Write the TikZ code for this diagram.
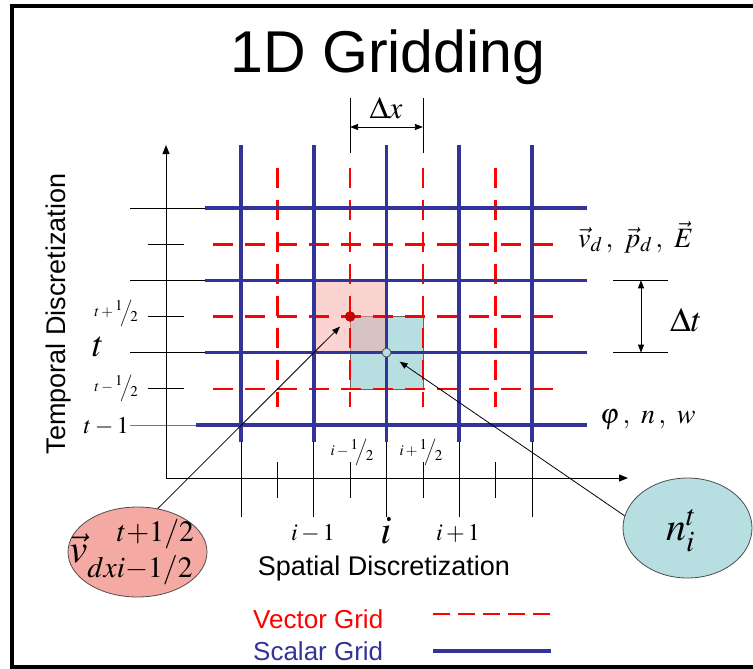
\documentclass[tikz,border=0pt]{standalone}
\usepackage{amsmath}
\usepackage{mathptmx}
\usepackage[no-math]{fontspec}
\setmainfont{Liberation Sans}
\usetikzlibrary{arrows.meta,shapes.geometric}
\definecolor{cVec}{HTML}{FF0000}
\definecolor{cSca}{HTML}{333399}
\definecolor{cDot}{HTML}{CC0000}
\definecolor{cCy}{HTML}{B7DEE1}
\definecolor{cPk}{HTML}{F8AAA4}
\definecolor{cEl}{HTML}{F4AAA2}
\newcommand{\fsz}[1]{\fontsize{#1}{#1}\selectfont}
\newcommand{\hlf}{\raisebox{.4em}{$1$}\kern-.15em\Big/\kern-.15em\raisebox{-.3em}{$2$}}

\begin{document}
\begin{tikzpicture}[x=1pt,y=-1pt,>={Triangle[length=8pt,width=6pt]},
  sgrid/.style={cSca,line width=3.6pt},
  vgrid/.style={cVec,line width=2.6pt,dash pattern=on 20pt off 12pt},
  tickln/.style={black,line width=0.8pt},
  axis/.style={black,line width=1pt,-{Triangle[length=9pt,width=7pt]}},
  callout/.style={ellipse,draw=black!70,line width=0.8pt,inner sep=0pt},
  lbl/.style={inner sep=0pt}]
\useasboundingbox (0,0) rectangle (753,669);
% frame + title
\draw[line width=3.2pt] (753,6) -- (12,6) -- (12,667) -- (753,667);
\node[lbl,font=\fsz{59},anchor=base] (title) at (388,73) {1D Gridding};
% highlighted cells
\fill[cCy] (350.1,316.5) rectangle (422.9,388.8);
\draw[black!60,line width=0.6pt] (350.1,316.5) rectangle (422.9,388.8);
\fill[cPk,opacity=.5] (313.75,280.3) rectangle (386.5,352.6);
% ticks on the axes
\foreach \y in {208,280.3,352.6} \draw[tickln] (130,\y) -- (205,\y);
\draw[cSca!70,line width=0.8pt] (130,424.9) -- (205,424.9);
\foreach \y in {244.2,316.5,388.8} \draw[tickln] (148,\y) -- (184,\y);
\foreach \x in {241,313.75,386.5,459.25,532} \draw[tickln] (\x,442) -- (\x,517);
\foreach \x in {277.4,350.1,422.9,495.6} \draw[tickln] (\x,462) -- (\x,498);
% vector grid (dashed) and scalar grid
\foreach \x in {277.4,350.1,422.9,495.6} \draw[vgrid] (\x,168) -- (\x,407);
\foreach \y in {244.2,316.5,388.8} \draw[vgrid] (213,\y) -- (557,\y);
\foreach \x in {241,313.75,386.5,459.25,532} \draw[sgrid] (\x,145) -- (\x,442);
\foreach \y in {208,280.3,352.6} \draw[sgrid] (205,\y) -- (587,\y);
\draw[sgrid] (196,424.9) -- (587,424.9);
% axes
\coordinate (O) at (166,478);
\coordinate (yend) at (166,145);
\coordinate (xend) at (628,478);
\draw[axis] (O) -- (yend);
\draw[axis] (O) -- (xend);
% delta x, delta t
\draw[tickln] (350.1,98) -- (350.1,153);
\draw[tickln] (422.9,98) -- (422.9,153);
\coordinate (dxL) at (350.1,127);
\coordinate (dxR) at (422.9,127);
\draw[<->,line width=0.8pt] (dxL) -- (dxR);
\node[lbl,font=\fsz{31}] (dxlab) at (386,108) {$\Delta x$};
\draw[tickln] (613,280.3) -- (668,280.3);
\draw[tickln] (613,352.6) -- (668,352.6);
\coordinate (dtT) at (641,280.3);
\coordinate (dtB) at (641,352.6);
\draw[<->,line width=0.8pt] (dtT) -- (dtB);
\node[lbl,font=\fsz{34},anchor=west] (dtlab) at (670,320) {$\Delta t$};
% variables on the grids
\node[lbl,font=\fsz{28},anchor=base west] (vvar) at (578,247) {$\vec v_d\,,\ \vec p_d\,,\ \vec E$};
\node[lbl,font=\fsz{28},anchor=base west] (svar) at (600,423) {$\varphi\,,\ n\,,\ w$};
% time labels
\node[lbl,font=\fsz{15},anchor=east] (tp) at (138,313) {$t+\hlf$};
\node[lbl,font=\fsz{36}] (tt) at (98,347) {$t$};
\node[lbl,font=\fsz{15},anchor=east] (tm) at (138,388) {$t-\hlf$};
\node[lbl,font=\fsz{24},anchor=east] (t1) at (129,426) {$t-1$};
\node[lbl,font=\fsz{27},rotate=90,anchor=base] (tlab) at (65,314) {Temporal Discretization};
% space labels
\node[lbl,font=\fsz{15}] (im) at (352,452) {$i-\hlf$};
\node[lbl,font=\fsz{15}] (ip) at (421,452) {$i+\hlf$};
\node[lbl,font=\fsz{24}] (i1) at (313,533) {$i-1$};
\node[lbl,font=\fsz{40}] (ii) at (386,531) {$i$};
\node[lbl,font=\fsz{24}] (i2) at (458,533) {$i+1$};
\node[lbl,font=\fsz{27},anchor=base] (xlab) at (384,575) {Spatial Discretization};
% sample points and callouts
\node[circle,fill=cDot,draw=cDot!80!black,minimum size=10pt,inner sep=0pt] (rd) at (350.1,316.5) {};
\node[circle,fill=cCy,draw=black!70,line width=0.8pt,minimum size=9pt,inner sep=0pt] (cd) at (386.5,352.6) {};
\node[callout,fill=cEl,minimum width=139pt,minimum height=90pt] (pk) at (137.5,552) {};
\node[lbl,font=\fsz{40}] (pkt) at (132,552) {$\vec v_{dxi-1/2}^{\hphantom{dx}t+1/2}$};
\node[callout,fill=cCy,minimum width=129pt,minimum height=100pt] (cy) at (687.5,528) {};
\node[lbl,font=\fsz{40}] (cyt) at (681,531) {$n_i^t$};
\draw[->,line width=0.8pt,shorten >=9pt] (pk.65) -- (rd);
\draw[->,line width=0.8pt,shorten >=11pt] (cy.169) -- (cd);
% legend
\node[lbl,font=\fsz{26},text=cVec,anchor=base west] (lvec) at (253,628) {Vector Grid};
\node[lbl,font=\fsz{26},text=cSca,anchor=base west] (lsca) at (253,660) {Scalar Grid};
\coordinate (lv1) at (433,614);
\coordinate (lv2) at (551,614);
\coordinate (ls1) at (433,651);
\coordinate (ls2) at (551,651);
\draw[vgrid,dash pattern=on 17pt off 8pt] (lv1) -- (lv2);
\draw[sgrid] (ls1) -- (ls2);
\end{tikzpicture}
\end{document}
